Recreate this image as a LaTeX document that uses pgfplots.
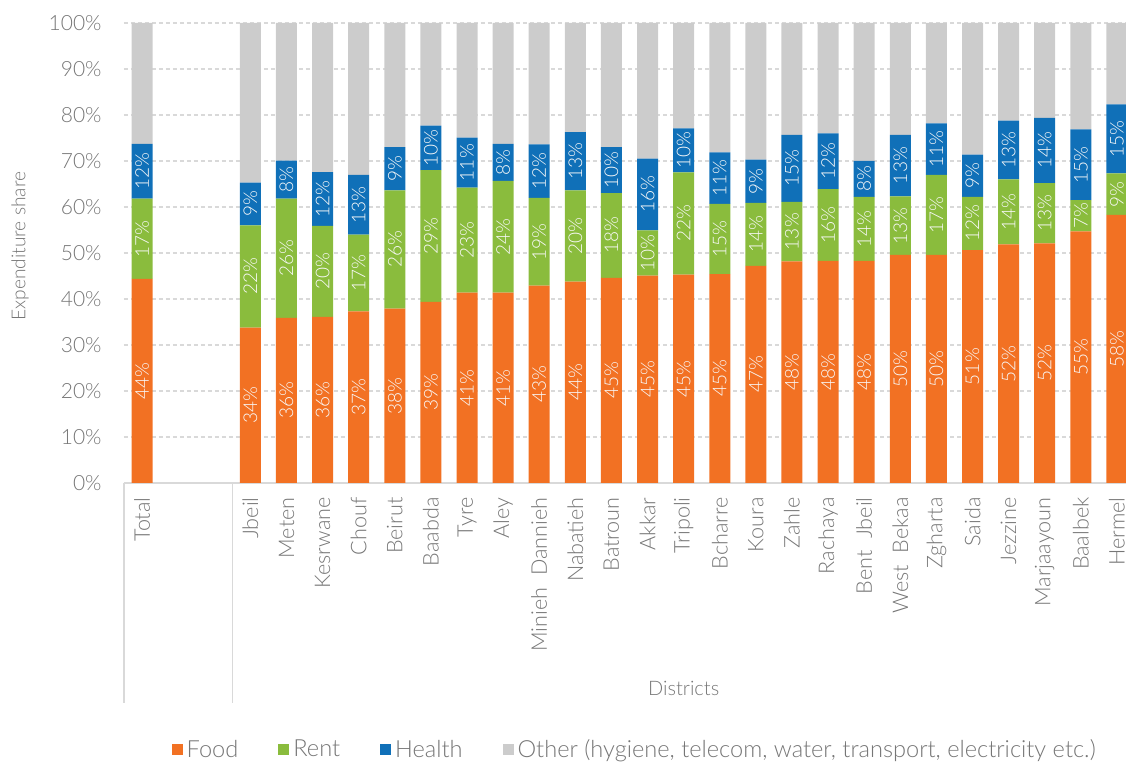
\documentclass[border=0pt]{standalone}
\usepackage{fontspec}
\setmainfont{Lato}[UprightFont=* Light]
\usepackage{pgfplots}
\pgfplotsset{compat=1.18}
\usepackage{pgfplotstable}
\definecolor{cfood}{RGB}{242,113,35}
\definecolor{crent}{RGB}{138,188,61}
\definecolor{chealth}{RGB}{16,112,184}
\definecolor{cother}{RGB}{204,204,204}
\definecolor{ctext}{RGB}{118,118,118}
\definecolor{cgrid}{RGB}{217,217,217}

\pgfplotstableread{
x food rent health other
0 44.4 17.4 11.9 26.3
3 33.8 22.2 9.3 34.7
4 35.9 25.9 8.3 29.9
5 36.1 19.8 11.7 32.4
6 37.3 16.7 13.0 33.0
7 37.9 25.7 9.4 27.0
8 39.4 28.6 9.7 22.3
9 41.4 22.8 10.9 24.9
10 41.4 24.3 8.0 26.3
11 42.9 19.1 11.6 26.4
12 43.8 19.8 12.7 23.7
13 44.6 18.4 10.0 27.0
14 45.1 9.8 15.6 29.5
15 45.3 22.2 9.6 22.9
16 45.4 15.3 11.2 28.1
17 47.2 13.7 9.4 29.7
18 48.2 12.9 14.6 24.3
19 48.3 15.6 12.1 24.0
20 48.3 13.9 7.8 30.0
21 49.6 12.7 13.4 24.3
22 49.6 17.4 11.2 21.8
23 50.6 11.6 9.2 28.6
24 51.9 14.1 12.8 21.2
25 52.1 13.1 14.2 20.6
26 54.7 6.8 15.4 23.1
27 58.3 9.0 15.0 17.7
}\datatable

\begin{document}
\begin{tikzpicture}
\pgfplotsset{
  base/.style={
    width=505.5pt, height=230pt, scale only axis,
    at={(0,0)}, anchor=south west,
    xmin=-0.5, xmax=27.5, ymin=0, ymax=100,
  }
}
\begin{axis}[base,
  ybar stacked, bar width=10.5pt,
  clip=false,
  axis x line*=bottom, axis y line*=left,
  x axis line style={color=cgrid, line width=0.8pt},
  y axis line style={draw=none},
  ymajorgrids, grid style={dash pattern=on 2pt off 1.5pt, color=cgrid, line width=0.6pt},
  major tick length=0pt,
  xtick={0,3,4,...,27},
  xticklabels={Total,Jbeil,Meten,Kesrwane,Chouf,Beirut,Baabda,Tyre,Aley,Minieh~~Dannieh,Nabatieh,Batroun,Akkar,Tripoli,Bcharre,Koura,Zahle,Rachaya,Bent~~Jbeil,West~~Bekaa,Zgharta,Saida,Jezzine,Marjaayoun,Baalbek,Hermel},
  xticklabel style={rotate=90, anchor=east, inner sep=0pt, font=\fontsize{10.8}{12}\selectfont, text=ctext},
  xticklabel shift=7pt,
  ytick={0,10,...,100},
  yticklabel={\pgfmathprintnumber{\tick}\%},
  yticklabel style={anchor=east, inner sep=0pt, font=\fontsize{10.5}{12}\selectfont, text=ctext},
  yticklabel shift=11pt,
  /pgf/number format/assume math mode=true,
  ylabel={Expenditure share},
  ylabel style={at={(axis description cs:-0.1029,0.515)}, anchor=center, font=\fontsize{9.6}{12}\selectfont, text=ctext},
  xlabel={Districts},
  xlabel style={at={(axis description cs:0.5536,-0.4457)}, anchor=center, font=\fontsize{10}{12}\selectfont, text=ctext},
  legend columns=4,
  legend style={at={(axis description cs:0.506,-0.5804)}, anchor=center, draw=none, font=\fontsize{11.8}{13}\selectfont, text=ctext,
    /tikz/every odd column/.append style={column sep=0pt},
    /tikz/every even column/.append style={column sep=18pt}},
  legend image code/.code={\fill[#1] (0pt,-2.75pt) rectangle (5.5pt,2.75pt);},
]
\addplot[fill=cfood, draw=none] table[x=x, y=food]{\datatable};
\addlegendentry{Food}
\addplot[fill=crent, draw=none] table[x=x, y=rent]{\datatable};
\addlegendentry{Rent}
\addplot[fill=chealth, draw=none] table[x=x, y=health]{\datatable};
\addlegendentry{Health}
\addplot[fill=cother, draw=none] table[x=x, y=other]{\datatable};
\addlegendentry{Other (hygiene, telecom, water, transport, electricity etc.)}
\draw[color=cgrid, line width=0.8pt] (axis cs:-0.5,0) -- ++(0pt,-110pt);
\draw[color=cgrid, line width=0.8pt] (axis cs:2.5,0) -- ++(0pt,-110pt);
\end{axis}
\begin{axis}[base, hide axis, clip=false,
  point meta=explicit,
  nodes near coords={\pgfmathprintnumber[fixed,precision=0,assume math mode=true]{\pgfplotspointmeta}\%},
  every node near coord/.append style={anchor=center, rotate=90, text=white!95!gray, font=\fontsize{9.5}{10}\selectfont, inner sep=0pt},
]
\addplot[only marks, mark=none] table[x=x, y expr=\thisrow{food}/2, meta=food]{\datatable};
\addplot[only marks, mark=none] table[x=x, y expr=\thisrow{food}+\thisrow{rent}/2, meta=rent]{\datatable};
\addplot[only marks, mark=none] table[x=x, y expr=\thisrow{food}+\thisrow{rent}+\thisrow{health}/2, meta=health]{\datatable};
\end{axis}
\pgfresetboundingbox
\path (-62pt,-140.5pt) rectangle (501pt,241.5pt);
\end{tikzpicture}
\end{document}
